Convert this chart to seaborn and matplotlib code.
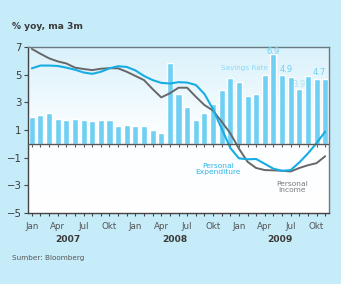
import numpy as np
import pandas as pd
import matplotlib
matplotlib.use("Agg")
import matplotlib.pyplot as plt
import seaborn as sns
from matplotlib.colors import LinearSegmentedColormap
from matplotlib.ticker import FixedLocator, MultipleLocator, NullFormatter

# ---- data (monthly, Jan 2007 .. Nov 2009) ----
months = pd.date_range("2007-01-01", "2009-11-01", freq="MS")
savings_rate = [1.93, 2.10, 2.22, 1.81, 1.73, 1.81, 1.73, 1.61, 1.73, 1.73, 1.29, 1.37,
                1.29, 1.29, 1.00, 0.76, 5.83, 3.56, 2.63, 1.73, 2.22, 2.90, 3.86, 4.73,
                4.46, 3.44, 3.56, 4.97, 6.45, 4.95, 4.83, 3.93, 4.86, 4.71, 4.71]
expenditure = [5.45, 5.65, 5.65, 5.62, 5.50, 5.35, 5.15, 5.05, 5.20, 5.45, 5.60, 5.55,
               5.30, 4.90, 4.60, 4.40, 4.35, 4.45, 4.42, 4.25, 3.60, 2.50, 1.10, -0.30,
               -1.05, -1.12, -1.10, -1.45, -1.80, -1.95, -1.90, -1.35, -0.70, 0.05, 0.88]
income = [6.85, 6.50, 6.17, 5.95, 5.80, 5.50, 5.40, 5.32, 5.42, 5.46, 5.45, 5.20,
          4.90, 4.60, 3.95, 3.35, 3.65, 4.05, 4.05, 3.40, 2.80, 2.40, 1.60, 0.76,
          -0.35, -1.30, -1.75, -1.90, -1.92, -1.95, -2.00, -1.75, -1.55, -1.40, -0.90]
tick_labels = ["Jan", "Apr", "Jul", "Okt"] * 3
year_labels = ["2007", "2008", "2009"]
bar_annotations = {28: "6.9", 29: "4.9", 31: "3.9", 34: "4.7"}

df = pd.DataFrame({"idx": np.arange(len(months)), "month": months,
                   "savings": savings_rate, "expenditure": expenditure,
                   "income": income})

# ---- style ----
BG = "#c6ecf9"
BAR = "#6fd0f3"
EXP = "#17ade3"
INC = "#676767"
TXT = "#3a3a3a"

sns.set_theme(style="white")
plt.rcParams["font.family"] = ["DejaVu Sans Condensed", "DejaVu Sans"]

fig = plt.figure(figsize=(3.41, 2.84), dpi=100, facecolor=BG)
ax = fig.add_axes([0.082, 0.25, 0.883, 0.585])

XL = (-0.45, 34.45)
YL = (-5, 7)

# gradient plot background
grad = np.linspace(0, 1, 256)[:, None]
cmap = LinearSegmentedColormap.from_list("bg", ["#ffffff", "#fbfeff", "#d9f1fb"])
ax.imshow(grad, extent=[XL[0], XL[1], YL[0], YL[1]], origin="lower",
          aspect="auto", cmap=cmap, zorder=0)

sns.barplot(data=df, x="idx", y="savings", color=BAR, width=0.7,
            saturation=1, ax=ax, zorder=2, native_scale=True)
sns.lineplot(data=df, x="idx", y="income", color=INC, lw=1.4, ax=ax, zorder=3)
sns.lineplot(data=df, x="idx", y="expenditure", color=EXP, lw=1.5, ax=ax, zorder=4)

ax.set_xlim(*XL)
ax.set_ylim(*YL)
ax.set_xlabel("")
ax.set_ylabel("")

# zero line
ax.axhline(0, color="#555555", lw=1.0, zorder=5)

# axes/ticks
ax.xaxis.set_major_locator(FixedLocator(df["idx"].values[::3]))
ax.set_xticklabels(tick_labels)
ax.xaxis.set_minor_locator(MultipleLocator(1))
ax.yaxis.set_major_locator(FixedLocator([-5, -3, -1, 1, 3, 5, 7]))
ax.tick_params(axis="x", which="both", direction="out", bottom=True,
               length=2.5, width=0.8, color="#444444", labelsize=6.3,
               labelcolor="#555555", pad=4)
ax.tick_params(axis="y", which="both", direction="out", left=True,
               length=3, width=0.8, color="#444444", labelsize=7.3,
               labelcolor=TXT, pad=1.5)
for s in ["left", "bottom"]:
    ax.spines[s].set_color("#444444")
    ax.spines[s].set_linewidth(1.0)
for s in ["top", "right"]:
    ax.spines[s].set_color("#6a7a80")
    ax.spines[s].set_linewidth(1.0)

# ticks on zero line
sec = ax.secondary_xaxis(5 / 12)
sec.xaxis.set_major_locator(FixedLocator(df["idx"].values[::3]))
sec.xaxis.set_minor_locator(MultipleLocator(1))
sec.xaxis.set_major_formatter(NullFormatter())
sec.tick_params(which="both", direction="out", length=2.5, width=0.8,
                color="#555555")
sec.spines["bottom"].set_visible(False)

# annotations
for i, lab in bar_annotations.items():
    v = df.loc[i, "savings"]
    if lab == "6.9":
        ax.text(i, v - 0.12, lab, ha="center", va="bottom", fontsize=6, color=BAR)
    elif lab == "4.9":
        ax.text(i + 0.5, v + 0.12, lab, ha="center", va="bottom", fontsize=6, color=BAR)
    elif lab == "3.9":
        ax.text(i, v + 0.02, lab, ha="center", va="bottom", fontsize=6, color="#a8e4f7")
    else:
        ax.text(i - 0.7, v + 0.12, lab, ha="center", va="bottom", fontsize=6, color=BAR)

ax.text(24.6, 5.45, "Savings Rate", ha="center", va="center", fontsize=5.2,
        color="#8adbf5", zorder=6)
ax.text(21.6, -1.8, "Personal\nExpenditure", ha="center", va="center",
        fontsize=5.4, color="#2fb6e6", linespacing=1.05, zorder=6)
ax.text(30.2, -3.1, "Personal\nIncome", ha="center", va="center",
        fontsize=5.4, color="#7a7a7a", linespacing=1.05, zorder=6)

# title, years, source
fig.text(0.035, 0.908, "% yoy, ma 3m", ha="left", va="center", fontsize=6.6,
         fontweight="bold", color=TXT)
for x, yl in zip([0.2, 0.513, 0.822], year_labels):
    fig.text(x, 0.155, yl, ha="center", va="center", fontsize=6.6,
             fontweight="bold", color=TXT)
fig.text(0.035, 0.092, "Sumber: Bloomberg", ha="left", va="center",
         fontsize=5.2, color="#555555")

fig.savefig("out.png", dpi=100, facecolor=BG)
